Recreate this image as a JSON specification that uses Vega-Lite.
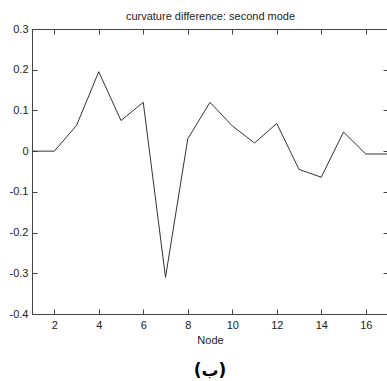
{
  "$schema": "https://vega.github.io/schema/vega-lite/v6.json",
  "autosize": "none",
  "width": 356,
  "height": 285,
  "padding": {"left": 32, "top": 29, "right": 0, "bottom": 67},
  "background": "white",
  "config": {
    "font": "Liberation Sans",
    "view": {"stroke": "#444", "strokeWidth": 1},
    "axis": {"grid": false, "domainColor": "#444", "tickColor": "#444", "labelColor": "#222", "titleColor": "#222", "labelFontSize": 11, "titleFontSize": 11, "titleFontWeight": "normal", "labelFont": "Liberation Sans", "titleFont": "Liberation Sans"}
  },
  "title": {"text": "(ب)", "orient": "bottom", "font": "DejaVu Sans", "fontSize": 17, "fontWeight": "bold", "color": "#000", "offset": 18},
  "data": {"values": [
    {"node": 1, "value": 0.0},
    {"node": 2, "value": 0.0},
    {"node": 3, "value": 0.063},
    {"node": 4, "value": 0.195},
    {"node": 5, "value": 0.075},
    {"node": 6, "value": 0.12},
    {"node": 7, "value": -0.31},
    {"node": 8, "value": 0.03},
    {"node": 9, "value": 0.12},
    {"node": 10, "value": 0.062},
    {"node": 11, "value": 0.02},
    {"node": 12, "value": 0.068},
    {"node": 13, "value": -0.045},
    {"node": 14, "value": -0.064},
    {"node": 15, "value": 0.047},
    {"node": 16, "value": -0.007},
    {"node": 17, "value": -0.007}
  ]},
  "resolve": {"axis": {"x": "independent", "y": "independent"}},
  "layer": [
    {
      "mark": {"type": "line", "color": "#333", "strokeWidth": 1},
      "encoding": {
        "x": {"field": "node", "type": "quantitative", "scale": {"domain": [1, 17], "nice": false, "zero": false},
          "axis": {"orient": "bottom", "values": [2, 4, 6, 8, 10, 12, 14, 16], "tickSize": -5, "labelPadding": 10, "title": "Node", "titlePadding": 4}},
        "y": {"field": "value", "type": "quantitative", "scale": {"domain": [-0.4, 0.3], "nice": false, "zero": false},
          "axis": {"orient": "left", "values": [-0.4, -0.3, -0.2, -0.1, 0, 0.1, 0.2, 0.3], "tickSize": -5, "labelPadding": 9, "title": null,
            "labelExpr": "abs(datum.value) < 1e-9 ? '0' : replace(format(datum.value, '.1f'), '−', '-')"}}
      }
    },
    {
      "mark": {"type": "line", "strokeOpacity": 0},
      "encoding": {
        "x": {"field": "node", "type": "quantitative",
          "axis": {"orient": "top", "values": [2, 4, 6, 8, 10, 12, 14, 16], "tickSize": -5, "labels": false, "title": "curvature difference: second mode", "titlePadding": 7}},
        "y": {"field": "value", "type": "quantitative",
          "axis": {"orient": "right", "values": [-0.4, -0.3, -0.2, -0.1, 0, 0.1, 0.2, 0.3], "tickSize": -5, "labels": false, "title": null}}
      }
    }
  ]
}
